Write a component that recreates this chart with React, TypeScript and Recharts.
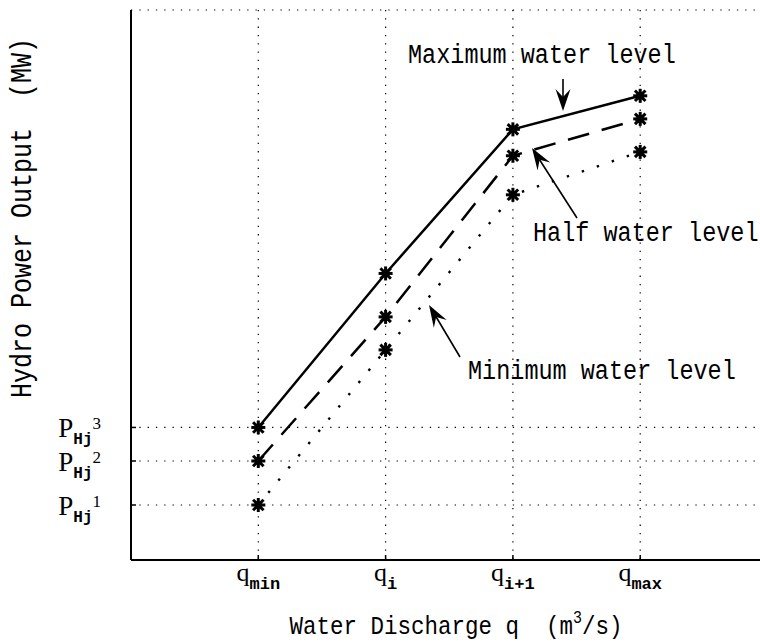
import React from "react";
import { LineChart, Line, XAxis, YAxis, CartesianGrid } from "recharts";

// discharge positions and their subscript labels (q_min, q_i, ...)
const discharge = [1, 2, 3, 4];
const dischargeSubs = ["min", "i", "i+1", "max"];

// hydro output curves for three reservoir levels
const maxLevel = [24.1, 52.1, 78.3, 84.4];
const halfLevel = [18.0, 44.2, 73.5, 80.2];
const minLevel = [10.0, 38.2, 66.4, 74.2];

// output ticks P_Hj^1..3 sit on the q_min values
const outputTicks = [minLevel[0], halfLevel[0], maxLevel[0]];
const outputSups = ["1", "2", "3"];

const data = discharge.map((q, i) => ({
  q,
  max: maxLevel[i],
  half: halfLevel[i],
  min: minLevel[i],
}));

const MONO = "'Liberation Mono', 'DejaVu Sans Mono', monospace";
const SERIF = "'Liberation Serif', 'DejaVu Serif', serif";

const StarDot = ({ cx, cy }: any) => {
  if (cx == null || cy == null) return null;
  const r = 7;
  const d = r * 0.75;
  return (
    <g stroke="#000" strokeWidth={3} fill="#000">
      <line x1={cx - r} y1={cy} x2={cx + r} y2={cy} />
      <line x1={cx} y1={cy - r} x2={cx} y2={cy + r} />
      <line x1={cx - d} y1={cy - d} x2={cx + d} y2={cy + d} />
      <line x1={cx - d} y1={cy + d} x2={cx + d} y2={cy - d} />
      <circle cx={cx} cy={cy} r={4} stroke="none" />
    </g>
  );
};

const QTick = ({ x, y, payload }: any) => {
  const idx = discharge.indexOf(payload.value);
  return (
    <g>
      <line x1={x} y1={y} x2={x} y2={y - 5} stroke="#000" strokeWidth={1.5} />
      <text x={x} y={y + 21} textAnchor="middle" fill="#000">
        <tspan fontFamily={SERIF} fontSize={26}>q</tspan>
        <tspan fontFamily={MONO} fontWeight="bold" fontSize={17} dy={8}>
          {dischargeSubs[idx]}
        </tspan>
      </text>
    </g>
  );
};

const TopTick = ({ x, y }: any) => (
  <line x1={x} y1={y} x2={x} y2={y + 5} stroke="#000" strokeWidth={1.5} />
);

const PTick = ({ x, y, payload }: any) => {
  const idx = outputTicks.indexOf(payload.value);
  return (
    <g>
      <line x1={x} y1={y} x2={x + 5} y2={y} stroke="#000" strokeWidth={1.5} />
      <text x={x - 30} y={y + 10} textAnchor="end" fill="#000">
        <tspan fontFamily={SERIF} fontSize={27}>P</tspan>
        <tspan fontFamily={MONO} fontWeight="bold" fontSize={16} dy={7}>Hj</tspan>
        <tspan fontFamily={SERIF} fontSize={17} dy={-15}>{outputSups[idx]}</tspan>
      </text>
    </g>
  );
};

// monospace text stretched a little taller than its natural shape
const TallText = ({
  x,
  y,
  anchor = "start",
  rotate = 0,
  size = 23.5,
  children,
}: {
  x: number;
  y: number;
  anchor?: "start" | "middle" | "end";
  rotate?: number;
  size?: number;
  children: React.ReactNode;
}) => (
  <g transform={`translate(${x} ${y}) rotate(${rotate}) scale(1 1.18)`}>
    <text x={0} y={0} textAnchor={anchor} xmlSpace="preserve" fontFamily={MONO} fontSize={size} fill="#000">
      {children}
    </text>
  </g>
);

// barbed arrow from (x1,y1) with its tip at (x2,y2)
const Arrow = ({ x1, y1, x2, y2 }: { x1: number; y1: number; x2: number; y2: number }) => {
  const dx = x2 - x1;
  const dy = y2 - y1;
  const len = Math.hypot(dx, dy);
  const ux = dx / len;
  const uy = dy / len;
  const px = -uy;
  const py = ux;
  const headLen = 22;
  const halfW = 7.5;
  const notch = 14;
  const bx = x2 - ux * headLen;
  const by = y2 - uy * headLen;
  const nx = x2 - ux * notch;
  const ny = y2 - uy * notch;
  const pts = [
    [x2, y2],
    [bx + px * halfW, by + py * halfW],
    [nx, ny],
    [bx - px * halfW, by - py * halfW],
  ]
    .map((p) => p.join(","))
    .join(" ");
  return (
    <g>
      <line x1={x1} y1={y1} x2={nx} y2={ny} stroke="#000" strokeWidth={1.6} />
      <polygon points={pts} fill="#000" />
    </g>
  );
};

export default function App() {
  return (
    <div
      style={{
        position: "absolute",
        left: 0,
        top: 0,
        width: 760,
        height: 643,
        overflow: "hidden",
        background: "#fff",
      }}
    >
      <LineChart
        width={800}
        height={643}
        data={data}
        margin={{ top: 10, right: 32.5, bottom: 0, left: 0 }}
      >
        <CartesianGrid stroke="#000" strokeWidth={1.2} strokeDasharray="1.3 7" />
        <XAxis
          dataKey="q"
          type="number"
          domain={[0, 5]}
          ticks={discharge}
          height={83}
          tickSize={0}
          tickMargin={0}
          tickLine={false}
          tick={<QTick />}
          axisLine={{ stroke: "#000", strokeWidth: 2 }}
          interval={0}
        />
        <XAxis
          xAxisId="top"
          orientation="top"
          type="number"
          domain={[0, 5]}
          ticks={discharge}
          height={0}
          tickSize={0}
          tickMargin={0}
          tickLine={false}
          tick={<TopTick />}
          axisLine={{ stroke: "#000", strokeWidth: 2 }}
          interval={0}
        />
        <YAxis
          type="number"
          domain={[0, 100]}
          ticks={outputTicks}
          width={131}
          tickSize={0}
          tickMargin={0}
          tickLine={false}
          tick={<PTick />}
          axisLine={{ stroke: "#000", strokeWidth: 2 }}
          interval={0}
        />
        <Line
          dataKey="min"
          type="linear"
          stroke="#000"
          strokeWidth={2.4}
          strokeDasharray="2.4 13.4"
          dot={<StarDot />}
          isAnimationActive={false}
        />
        <Line
          dataKey="half"
          type="linear"
          stroke="#000"
          strokeWidth={2.5}
          strokeDasharray="22 13"
          dot={<StarDot />}
          isAnimationActive={false}
        />
        <Line
          dataKey="max"
          type="linear"
          stroke="#000"
          strokeWidth={2.5}
          dot={<StarDot />}
          isAnimationActive={false}
        />
      </LineChart>

      <svg
        width={760}
        height={643}
        style={{ position: "absolute", left: 0, top: 0, pointerEvents: "none" }}
      >
        <TallText x={408} y={63}>Maximum water level</TallText>
        <TallText x={533} y={241}>Half water level</TallText>
        <TallText x={468} y={379}>Minimum water level</TallText>
        <TallText x={456} y={634} anchor="middle" size={22.5}>
          {"Water Discharge q  (m"}
          <tspan fontSize={15} dy={-9}>3</tspan>
          <tspan dy={9}>/s)</tspan>
        </TallText>
        <TallText x={31} y={218} anchor="middle" rotate={-90} size={25}>
          {"Hydro Power Output  (MW)"}
        </TallText>
        <Arrow x1={563} y1={79} x2={563} y2={111} />
        <Arrow x1={577} y1={218} x2={532} y2={148} />
        <Arrow x1={460} y1={357} x2={429} y2={305} />
      </svg>
    </div>
  );
}
